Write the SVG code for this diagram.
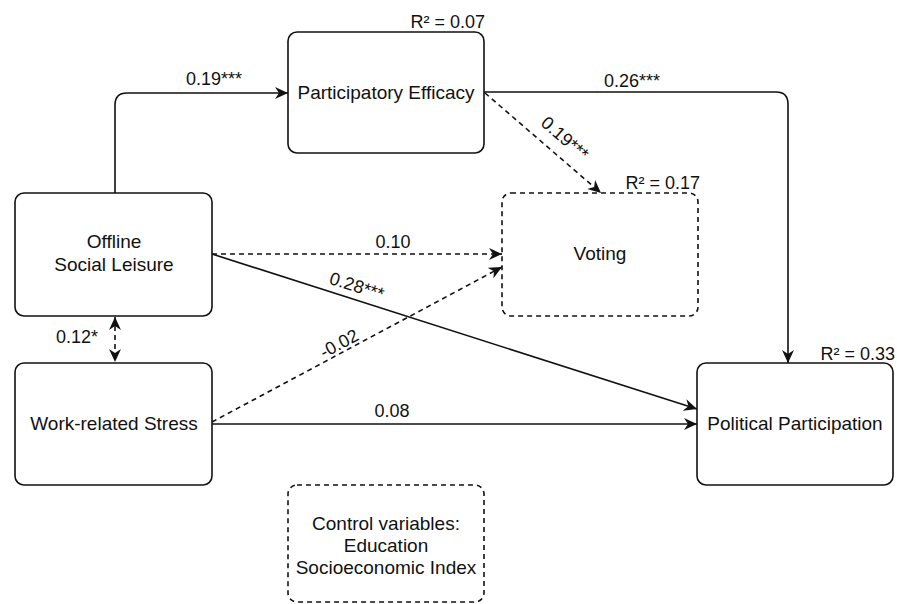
<svg xmlns="http://www.w3.org/2000/svg" width="897" height="604" viewBox="0 0 897 604">
<style>
  .box{fill:#fff;stroke:#111;stroke-width:1.6}
  .dbox{fill:#fff;stroke:#111;stroke-width:1.6;stroke-dasharray:5 4}
  .nt{font-family:"Liberation Sans",Arial,sans-serif;font-size:19px;fill:#111;text-anchor:middle}
  .lt{font-family:"Liberation Sans",Arial,sans-serif;font-size:18px;fill:#111}
  .mid{text-anchor:middle}
  .end{text-anchor:end}
  .e{fill:none;stroke:#111;stroke-width:1.6}
  .d{stroke-dasharray:5 4}
</style>
<defs>
  <marker id="ah" markerUnits="userSpaceOnUse" markerWidth="14" markerHeight="12" viewBox="0 0 14 12" refX="13" refY="6" orient="auto-start-reverse">
    <path d="M0,0 L13,6 L0,12 L4,6 Z" fill="#111"/>
  </marker>
</defs>
<rect width="897" height="604" fill="#fff"/>

<g id="connectors">
  <path class="e" d="M115,193 L115,105 Q115,93 127,93 L288,93" marker-end="url(#ah)"/>
  <path class="e" d="M484,92 L776,92 Q788,92 788,104 L788,363" marker-end="url(#ah)"/>
  <path class="e d" d="M485,93 L601,193" marker-end="url(#ah)"/>
  <path class="e d" d="M212,254 L502,254" marker-end="url(#ah)"/>
  <path class="e" d="M212,254 L697,409" marker-end="url(#ah)"/>
  <path class="e d" d="M212,422 L502,267" marker-end="url(#ah)"/>
  <path class="e" d="M212,424 L697,424" marker-end="url(#ah)"/>
  <path class="e d" d="M115,317 L115,362" marker-start="url(#ah)" marker-end="url(#ah)"/>

  <text class="lt" x="186" y="85">0.19***</text>
  <text class="lt" x="604" y="87">0.26***</text>
  <text class="lt mid" x="561" y="143" transform="rotate(41 561 143)">0.19***</text>
  <text class="lt mid" x="393" y="248">0.10</text>
  <text class="lt mid" x="355" y="292" transform="rotate(17.7 355 292)">0.28***</text>
  <text class="lt mid" x="342" y="349" transform="rotate(-28 342 349)">-0.02</text>
  <text class="lt mid" x="392" y="417">0.08</text>
  <text class="lt" x="56" y="343">0.12*</text>
</g>

<g id="participatory-efficacy">
  <rect class="box" x="288" y="32" width="196" height="121" rx="9"/>
  <text class="nt" x="386" y="99">Participatory Efficacy</text>
  <text class="lt end" x="485" y="28">R² = 0.07</text>
</g>

<g id="offline-social-leisure">
  <rect class="box" x="15" y="193" width="197" height="123" rx="9"/>
  <text class="nt" x="114" y="248">Offline</text>
  <text class="nt" x="114" y="271">Social Leisure</text>
</g>

<g id="work-related-stress">
  <rect class="box" x="15" y="363" width="197" height="122" rx="9"/>
  <text class="nt" x="114" y="430">Work-related Stress</text>
</g>

<g id="voting">
  <rect class="dbox" x="502" y="193" width="196" height="123" rx="9"/>
  <text class="nt" x="600" y="260">Voting</text>
  <text class="lt end" x="700" y="189">R² = 0.17</text>
</g>

<g id="political-participation">
  <rect class="box" x="697" y="363" width="196" height="122" rx="9"/>
  <text class="nt" x="795" y="430">Political Participation</text>
  <text class="lt end" x="895" y="360">R² = 0.33</text>
</g>

<g id="control-variables">
  <rect class="dbox" x="288" y="485" width="196" height="117" rx="9"/>
  <text class="nt" x="386" y="530">Control variables:</text>
  <text class="nt" x="386" y="552">Education</text>
  <text class="nt" x="386" y="574">Socioeconomic Index</text>
</g>
</svg>
